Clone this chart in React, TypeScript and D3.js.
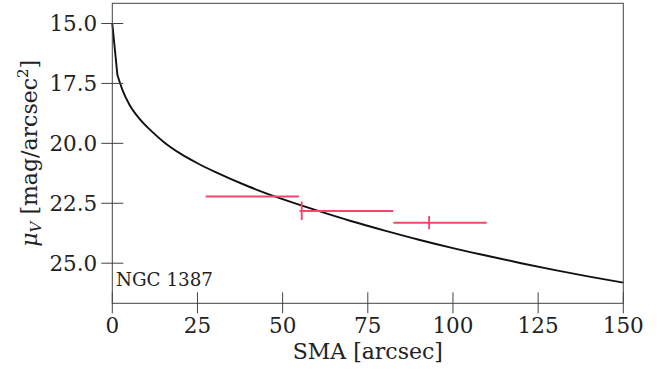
import React from "react";
import * as d3 from "d3";

const profileSMA = [0, 1.5, 3, 5, 8, 11.5, 15, 20, 25, 30, 40, 50, 60, 70, 80, 90, 100, 110, 120, 130, 140, 150];
const profileMu = [15.0, 17.15, 17.78, 18.38, 18.98, 19.49, 19.93, 20.43, 20.83, 21.18, 21.8, 22.33, 22.8, 23.24, 23.64, 24.02, 24.37, 24.69, 25.0, 25.29, 25.56, 25.81];

const obsSMA = [36.8, 55.6, 93.0];
const obsMu = [22.22, 22.82, 23.31];
const obsSMALow = [27.4, 55.0, 82.5];
const obsSMAHigh = [54.8, 82.5, 109.9];
const obsMuLow = [22.2, 22.43, 23.03];
const obsMuHigh = [22.24, 23.2, 23.58];

const xTicks = [0, 25, 50, 75, 100, 125, 150];
const yTicks = [15.0, 17.5, 20.0, 22.5, 25.0];

const galaxyLabel = "NGC 1387";

export default function App() {
  const W = 671, H = 372;
  const x = d3.scaleLinear().domain([0, 150]).range([112.3, 623.3]);
  const y = d3.scaleLinear().domain([14.157, 26.673]).range([3.3, 303.3]);
  const pts: [number, number][] = profileSMA.map((s, i) => [x(s), y(profileMu[i])]);
  const outer = d3.line().curve(d3.curveMonotoneX)(pts.slice(1)) || "";
  const inner = d3.line()(pts.slice(0, 2)) || "";
  const red = "#f0486f";
  const font = "'DejaVu Serif', serif";
  const [x0, x1] = x.range();
  const [y0, y1] = y.range();
  return (
    <svg width={W} height={H} style={{ position: "absolute", left: 0, top: 0 }} fontFamily={font}>
      <rect x={0} y={0} width={W} height={H} fill="white" />
      <path d={inner} fill="none" stroke="#111" strokeWidth={1.9} strokeLinejoin="round" />
      <path d={outer} fill="none" stroke="#111" strokeWidth={1.9} strokeLinejoin="round" />
      {obsSMA.map((s, i) => (
        <g key={i} stroke={red} strokeWidth={1.9}>
          <line x1={x(obsSMALow[i])} x2={x(obsSMAHigh[i])} y1={y(obsMu[i])} y2={y(obsMu[i])} />
          <line x1={x(s)} x2={x(s)} y1={y(obsMuLow[i])} y2={y(obsMuHigh[i])} />
        </g>
      ))}
      <rect x={x0} y={y0} width={x1 - x0} height={y1 - y0} fill="none" stroke="#444" strokeWidth={1} />
      {yTicks.map((t) => (
        <g key={t}>
          <line x1={x0 - 11} x2={x0 + 11} y1={y(t)} y2={y(t)} stroke="#444" strokeWidth={1} />
          <text x={x0 - 15} y={y(t)} dy="0.36em" textAnchor="end" fontSize={21.5} fill="#222">
            {t.toFixed(1)}
          </text>
        </g>
      ))}
      {xTicks.map((t) => (
        <g key={t}>
          <line x1={x(t)} x2={x(t)} y1={y1 - 11} y2={y1 + 10} stroke="#444" strokeWidth={1} />
          <text x={x(t)} y={333} textAnchor="middle" fontSize={21.5} fill="#222">
            {t}
          </text>
        </g>
      ))}
      <text x={116} y={286} fontSize={18.3} fill="#222">
        {galaxyLabel}
      </text>
      <text x={(x0 + x1) / 2} y={359} textAnchor="middle" fontSize={22} fill="#222">
        SMA [arcsec]
      </text>
      <text
        transform={`translate(37, ${(y0 + y1) / 2}) rotate(-90)`}
        textAnchor="middle"
        fontSize={22}
        fill="#222"
      >
        <tspan fontStyle="italic">μ</tspan>
        <tspan fontStyle="italic" fontSize={15} dy={4}>V</tspan>
        <tspan dy={-4}> [mag/arcsec</tspan>
        <tspan fontSize={15} dy={-9}>2</tspan>
        <tspan dy={9}>]</tspan>
      </text>
    </svg>
  );
}
